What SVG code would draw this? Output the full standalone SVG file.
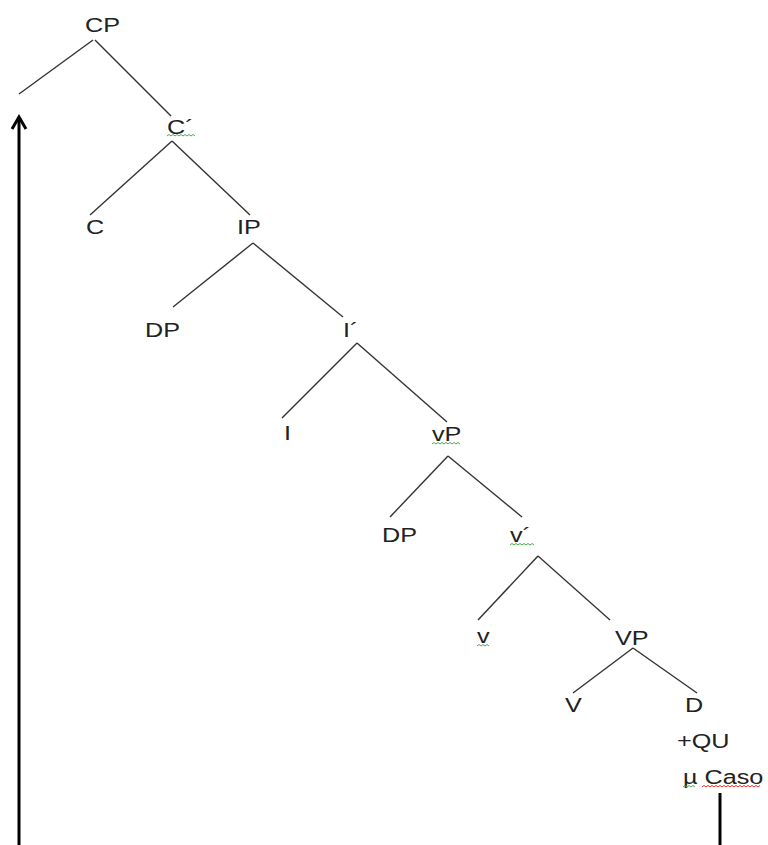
<svg xmlns="http://www.w3.org/2000/svg" width="768" height="845" viewBox="0 0 768 845">
<style>
.t{font-family:"Liberation Sans",Arial,sans-serif;font-size:21px;fill:#222}
.e{stroke:#333;stroke-width:1.4;fill:none}
.g{stroke:#4caa4c;stroke-width:1;fill:none}
.r{stroke:#e03030;stroke-width:1;fill:none}
.k{stroke:#000;stroke-width:3;fill:none}
</style>
<rect width="768" height="845" fill="#fff"/>
<g id="connectors">
<line class="e" x1="93" y1="40" x2="19" y2="94"/>
<line class="e" x1="95" y1="40" x2="171" y2="116"/>
<line class="e" x1="172" y1="141" x2="90" y2="215"/>
<line class="e" x1="172" y1="141" x2="250" y2="215"/>
<line class="e" x1="253" y1="243" x2="173" y2="307"/>
<line class="e" x1="253" y1="243" x2="343" y2="317"/>
<line class="e" x1="357" y1="343" x2="282" y2="418"/>
<line class="e" x1="357" y1="343" x2="447" y2="422"/>
<line class="e" x1="448" y1="456" x2="390" y2="517"/>
<line class="e" x1="448" y1="456" x2="522" y2="517"/>
<line class="e" x1="538" y1="556" x2="478" y2="620"/>
<line class="e" x1="538" y1="556" x2="610" y2="620"/>
<line class="e" x1="633" y1="648" x2="573" y2="693"/>
<line class="e" x1="633" y1="648" x2="697" y2="693"/>
<g id="movement">
<line class="k" x1="19" y1="845" x2="19" y2="118"/>
<polyline class="k" points="12,129 19,117 26,129"/>
<line class="k" x1="720" y1="793" x2="720" y2="845"/>
</g>
</g>
<g id="CP"><text class="t" transform="translate(85,32) scale(1.2,1)">CP</text></g>
<g id="Cbar"><text class="t" transform="translate(167,134) scale(1.2,1)">C´</text><path class="g" d="M167,136 l2,-1.5 l2,1.5 l2,-1.5 l2,1.5 l2,-1.5 l2,1.5 l2,-1.5 l2,1.5 l2,-1.5 l2,1.5 l2,-1.5 l2,1.5 l2,-1.5 l2,1.5"/></g>
<g id="C"><text class="t" transform="translate(86,234) scale(1.2,1)">C</text></g>
<g id="IP"><text class="t" transform="translate(237,234) scale(1.2,1)">IP</text></g>
<g id="DP1"><text class="t" transform="translate(145,337) scale(1.2,1)">DP</text></g>
<g id="Ibar"><text class="t" transform="translate(343,337) scale(1.2,1)">I´</text></g>
<g id="I"><text class="t" transform="translate(284,440) scale(1.2,1)">I</text></g>
<g id="vP"><text class="t" transform="translate(432,441) scale(1.2,1)">vP</text><path class="g" d="M432,444 l2,-1.5 l2,1.5 l2,-1.5 l2,1.5 l2,-1.5 l2,1.5 l2,-1.5 l2,1.5 l2,-1.5 l2,1.5 l2,-1.5 l2,1.5 l2,-1.5 l2,1.5"/></g>
<g id="DP2"><text class="t" transform="translate(382,542) scale(1.2,1)">DP</text></g>
<g id="vbar"><text class="t" transform="translate(510,542) scale(1.2,1)">v´</text><path class="g" d="M510,545 l2,-1.5 l2,1.5 l2,-1.5 l2,1.5 l2,-1.5 l2,1.5 l2,-1.5 l2,1.5 l2,-1.5 l2,1.5 l2,-1.5 l2,1.5"/></g>
<g id="v"><text class="t" transform="translate(477,643) scale(1.2,1)">v</text><path class="g" d="M477,646 l2,-1.5 l2,1.5 l2,-1.5 l2,1.5 l2,-1.5 l2,1.5"/></g>
<g id="VP"><text class="t" transform="translate(615,645) scale(1.2,1)">VP</text></g>
<g id="V"><text class="t" transform="translate(565,712) scale(1.2,1)">V</text></g>
<g id="D"><text class="t" transform="translate(685,712) scale(1.2,1)">D</text><text class="t" transform="translate(677,748) scale(1.2,1)">+QU</text><text class="t" transform="translate(683,784) scale(1.2,1)">µ Caso</text>
<path class="g" d="M683,787 l2,-1.5 l2,1.5 l2,-1.5 l2,1.5 l2,-1.5 l2,1.5"/>
<path class="r" d="M702,787 l2,-1.5 l2,1.5 l2,-1.5 l2,1.5 l2,-1.5 l2,1.5 l2,-1.5 l2,1.5 l2,-1.5 l2,1.5 l2,-1.5 l2,1.5 l2,-1.5 l2,1.5 l2,-1.5 l2,1.5 l2,-1.5 l2,1.5 l2,-1.5 l2,1.5 l2,-1.5 l2,1.5 l2,-1.5 l2,1.5 l2,-1.5 l2,1.5 l2,-1.5 l2,1.5 l2,-1.5"/></g>
</svg>
